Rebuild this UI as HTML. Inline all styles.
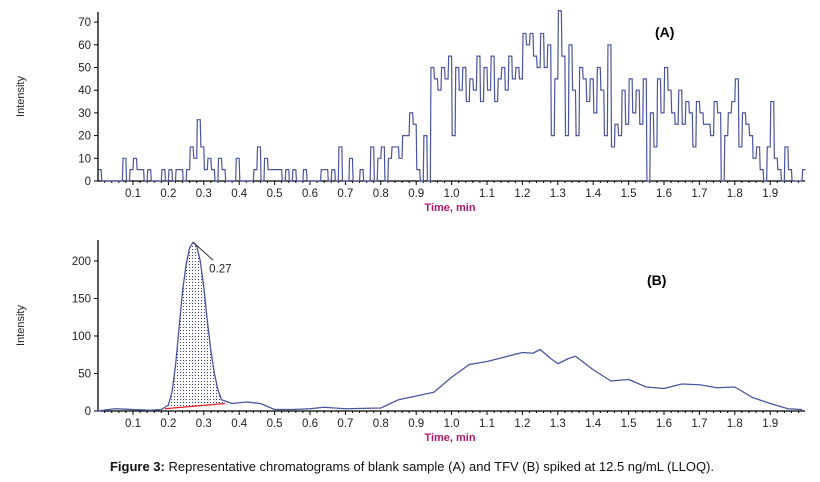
<!DOCTYPE html>
<html><head><meta charset="utf-8"><style>
body{margin:0;background:#fff;width:820px;height:477px;overflow:hidden}
svg text{font-family:"Liberation Sans",sans-serif}
</style></head><body>
<svg id="chart" width="820" height="477" xmlns="http://www.w3.org/2000/svg">
<defs><pattern id="dots" width="3" height="3" patternUnits="userSpaceOnUse"><rect width="3" height="3" fill="#fff"/><rect width="1" height="1" fill="#2b3a8c"/></pattern></defs>
<g id="gA"></g>
<g id="gB"></g>
<text x="412" y="471" text-anchor="middle" font-size="13" fill="#111"><tspan font-weight="bold">Figure 3:</tspan> Representative chromatograms of blank sample (A) and TFV (B) spiked at 12.5 ng/mL (LLOQ).</text>
</svg>
<script>
const xTicks=[0.1,0.2,0.3,0.4,0.5,0.6,0.7,0.8,0.9,1.0,1.1,1.2,1.3,1.4,1.5,1.6,1.7,1.8,1.9];
const aYTicks=[0,10,20,30,40,50,60,70];
const bYTicks=[0,50,100,150,200];
const aValues=[5,0,0,0,0,0,0,10,0,5,10,5,5,0,5,0,0,0,5,0,5,0,5,5,0,5,15,10,27,15,5,10,5,0,10,5,0,0,0,10,0,0,0,0,5,15,0,10,5,5,5,5,0,5,0,5,0,0,5,0,0,0,0,5,5,0,5,0,15,0,0,10,0,0,5,0,0,15,0,10,15,0,10,15,15,10,20,20,30,25,5,0,20,0,50,45,40,50,45,55,20,50,40,50,35,45,40,55,35,50,40,55,35,45,50,40,55,45,50,45,65,60,65,55,50,65,50,60,20,45,75,55,20,60,40,20,50,45,35,45,30,50,40,20,60,15,25,20,40,25,45,30,40,25,45,0,30,15,45,30,50,40,30,25,40,25,35,30,15,35,30,25,25,20,35,30,0,20,30,35,45,15,30,25,20,10,15,5,0,15,35,10,5,0,15,5,0,0,0,5];
const bTimes=[0,0.05,0.1,0.15,0.18,0.2,0.21,0.22,0.23,0.24,0.25,0.26,0.27,0.28,0.29,0.30,0.31,0.32,0.33,0.34,0.35,0.38,0.42,0.46,0.5,0.55,0.6,0.64,0.7,0.8,0.85,0.9,0.95,1.0,1.05,1.1,1.15,1.2,1.23,1.25,1.28,1.3,1.33,1.35,1.4,1.45,1.5,1.55,1.6,1.65,1.7,1.75,1.8,1.85,1.9,1.95,1.99];
const bValues=[0,3,2,1,2,8,25,60,110,160,195,218,225,220,200,165,120,80,50,28,15,10,12,10,2,2,3,5,3,4,15,20,25,45,62,66,72,78,77,82,70,63,70,73,55,40,42,32,30,36,35,31,32,18,10,3,2];
const peakTime=[0.27];const peakValue=[225];
const baseTimes=[0.19,0.36];const baseValues=[3,10];

const NS="http://www.w3.org/2000/svg";
const xs=t=>97.6+354*t;
function mk(p,tag,at){const e=document.createElementNS(NS,tag);for(const k in at)e.setAttribute(k,at[k]);p.appendChild(e);return e;}
function axes(g,ys,ticks,y0,y1,top){
  const ax=mk(g,'path',{d:`M98 ${top}V${y0}H805`,stroke:'#000',fill:'none','stroke-width':1.3});
  
  
  for(let t=0.02;t<2;t+=0.02){mk(g,'line',{x1:xs(t),x2:xs(t),y1:y0,y2:y0+(Math.abs(t*10-Math.round(t*10))<0.01?4:2),stroke:'#000'});}
  xTicks.forEach(t=>{const l=mk(g,'text',{x:xs(t),y:y0+16,'font-size':11.5,'text-anchor':'middle',fill:'#222'});l.textContent=t.toFixed(1);
    
    });
  ticks.forEach(v=>{mk(g,'line',{x1:94,x2:98,y1:ys(v),y2:ys(v),stroke:'#000'});const l=mk(g,'text',{x:91,y:ys(v)+4,'font-size':11.5,'text-anchor':'end',fill:'#222'});l.textContent=v;
    
    });
  const xt=mk(g,'text',{x:450,y:y0+30,'font-size':11,'font-weight':'bold',fill:'#b0186a','text-anchor':'middle'});xt.textContent='Time, min';
  
  
  const yt=mk(g,'text',{transform:`translate(24 ${(top+y0)/2}) rotate(-90)`,'font-size':11,'text-anchor':'middle',fill:'#222'});yt.textContent='Intensity';
  
  
}
// Chart A
const gA=document.getElementById('gA');
const ysA=v=>181-v*2.27;
axes(gA,ysA,aYTicks,181,0,12);
let d='';aValues.forEach((v,i)=>{const x0=xs(i*0.01),x1=xs((i+1)*0.01);d+=(i?'L':'M')+(x0+0.6)+' '+ysA(v)+'L'+x1+' '+ysA(v);});
const la=mk(gA,'path',{d:d,stroke:'#4a55a0',fill:'none','stroke-width':1.2});


const lA=mk(gA,'text',{x:655,y:37,'font-size':14,'font-weight':'bold'});lA.textContent='(A)';


// Chart B
const gB=document.getElementById('gB');
const ysB=v=>411-v*0.75;
axes(gB,ysB,bYTicks,411,0,240);
const pts=bTimes.map((t,i)=>[xs(t),ysB(bValues[i])]);
let fp='M'+xs(baseTimes[0])+' '+ysB(baseValues[0]);
bTimes.forEach((t,i)=>{if(t>baseTimes[0]&&t<baseTimes[1])fp+='L'+pts[i][0]+' '+pts[i][1];});
fp+='L'+xs(baseTimes[1])+' '+ysB(baseValues[1])+'Z';
const fill=mk(gB,'path',{d:fp,fill:'url(#dots)',stroke:'none'});


const bl=mk(gB,'line',{x1:xs(baseTimes[0]),y1:ysB(baseValues[0]),x2:xs(baseTimes[1]),y2:ysB(baseValues[1]),stroke:'#e02020','stroke-width':1.2});


const lb=mk(gB,'path',{d:'M'+pts.map(p=>p.join(' ')).join('L'),stroke:'#4a55a0',fill:'none','stroke-width':1.3,'stroke-linejoin':'round'});


const px=xs(peakTime[0]),py=ysB(peakValue[0]);
mk(gB,'line',{x1:px,y1:py,x2:px+20,y2:py+18,stroke:'#333'});
const pl=mk(gB,'text',{x:px+16,y:py+30,'font-size':11.5,fill:'#222'});pl.textContent=peakTime[0].toFixed(2);


const lB=mk(gB,'text',{x:647,y:285,'font-size':14,'font-weight':'bold'});lB.textContent='(B)';


</script>
</body></html>
